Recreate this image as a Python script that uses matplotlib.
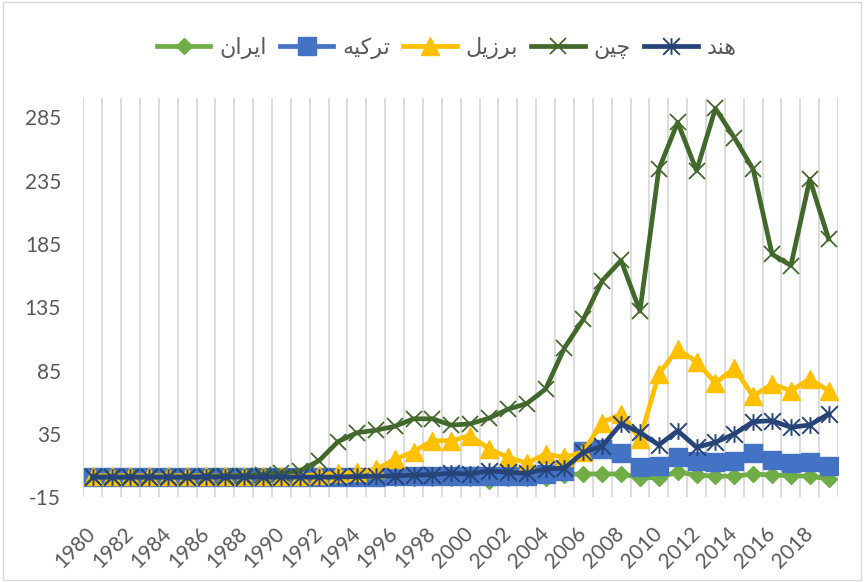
import numpy as np
import matplotlib
matplotlib.use("Agg")
import matplotlib.pyplot as plt
from matplotlib.path import Path
from matplotlib.patches import Rectangle

plt.rcParams['font.family'] = ['Lato', 'DejaVu Sans']

years = list(range(1980, 2020))
tick_years = list(range(1980, 2019, 2))

# Persian labels (pre-shaped presentation forms in visual order)
lbl_iran = "\uFEE5\uFE8D\uFEAE\uFBFE\uFE8D"      # ایران
lbl_turkey = "\uFEEA\uFBFF\uFB90\uFEAE\uFE97"    # ترکیه
lbl_brazil = "\uFEDE\uFBFE\uFEAF\uFEAE\uFE91"    # برزیل
lbl_china = "\uFEE6\uFBFF\uFB7C"                 # چین
lbl_india = "\uFEAA\uFEE8\uFEEB"                 # هند

iran = [0, 0, 0, 0, 0, 0, 0, 0, 0, 0,
        0, 0, 0, 0, 0, 0, 0, 0, 0, 0,
        0, -2, 0, 0, 0.5, 3, 3.5, 3.5, 3.5, 0.5,
        0.5, 5, 2.6, 1.7, 1.7, 3.4, 2.6, 2, 1.7, -0.5]
turkey = [1, 1, 1, 1, 1, 1, 1, 1, 1, 1,
          1, 1, 1, 1, 1, 1, 1.5, 1.5, 1.5, 2,
          2, 2, 2, 1.5, 3.4, 6, 21.5, 23.5, 20.3, 8.7,
          10, 16.6, 14, 13.2, 14, 20, 14.8, 12.2, 13.2, 10]
brazil = [2, 2, 2, 2, 2, 2, 2, 2, 2, 2,
          2, 2, 3, 4, 5, 7, 15, 21, 29.7, 29.7,
          33.7, 23.2, 16.6, 12.1, 19.2, 16.6, 21, 44, 50.8, 31,
          82.4, 102, 92, 75.3, 86.8, 64.8, 74.5, 69.2, 78.4, 69.2]
china = [1, 1, 1, 1, 1, 1, 1.5, 2, 2, 3,
         4, 6, 14, 29, 36, 38, 41, 47, 47, 42,
         43, 47.5, 54.5, 59, 70.5, 103, 125.5, 156, 172, 132,
         244, 281, 243, 292, 269, 244, 177, 168, 236, 189]
india = [1, 1, 1, 1, 1, 1, 1, 1, 1, 1,
         1, 1, 1, 1, 1.5, 1.5, 2, 2.5, 3, 4,
         3.4, 6, 4.7, 4, 7.4, 8, 20.5, 25.5, 43, 36.3,
         26.3, 37.6, 24.5, 28.4, 35, 44.7, 45.5, 40.3, 42.1, 50.8]

y_ticks = [-15, 35, 85, 135, 185, 235, 285]

c_iran = '#70AD47'
c_turkey = '#4472C4'
c_brazil = '#FFC000'
c_china = '#43682B'
c_india = '#264478'
c_text = '#595959'

star = Path([(0, -0.5), (0, 0.5), (-0.5, -0.5), (0.5, 0.5), (-0.5, 0.5), (0.5, -0.5)],
            [Path.MOVETO, Path.LINETO, Path.MOVETO, Path.LINETO, Path.MOVETO, Path.LINETO])

fig = plt.figure(figsize=(8.64, 5.82), dpi=100)
fig.patches.append(Rectangle((0.004, 0.004), 0.992, 0.992, transform=fig.transFigure,
                             fill=False, edgecolor='#D9D9D9', linewidth=1.0))
ax = fig.add_axes([0.0964, 0.1455, 0.8736, 0.6855])

x = np.arange(len(years))
lw = 3.4
ax.plot(x, iran, color=c_iran, lw=lw, marker='D', ms=7.8, mfc=c_iran, mec=c_iran, label=lbl_iran)
ax.plot(x, turkey, color=c_turkey, lw=lw, marker='s', ms=13, mfc=c_turkey, mec=c_turkey, label=lbl_turkey)
ax.plot(x, brazil, color=c_brazil, lw=lw, marker='^', ms=13, mfc=c_brazil, mec=c_brazil, label=lbl_brazil)
ax.plot(x, china, color=c_china, lw=lw, marker='x', ms=12, mew=1.3, mec=c_china, label=lbl_china)
ax.plot(x, india, color=c_india, lw=lw, marker=star, ms=12, mew=1.4, mec=c_india, label=lbl_india)

ax.set_xlim(-0.5, len(years) - 0.5)
ax.set_ylim(-15, 300)
ax.set_yticks(y_ticks)
ax.set_yticklabels([str(v) for v in y_ticks])
ax.set_xticks([years.index(y) for y in tick_years])
ax.set_xticklabels([str(y) for y in tick_years], rotation=45, ha='right', va='center',
                   rotation_mode='anchor')
ax.set_xticks(np.arange(-0.5, len(years)), minor=True)
ax.grid(which='minor', axis='x', color='#D9D9D9', linewidth=1.3)
ax.set_axisbelow(True)
ax.tick_params(axis='both', which='both', length=0, labelsize=15, labelcolor=c_text)
ax.tick_params(axis='y', pad=16)
ax.tick_params(axis='x', pad=24)
for s in ax.spines.values():
    s.set_visible(False)

leg = fig.legend(loc='center', bbox_to_anchor=(0.517, 0.918), ncol=5, frameon=False,
                 fontsize=16, handlelength=2.4, columnspacing=0.6, handletextpad=0.4)
for t in leg.get_texts():
    t.set_color(c_text)

fig.savefig('out.png', dpi=100)
